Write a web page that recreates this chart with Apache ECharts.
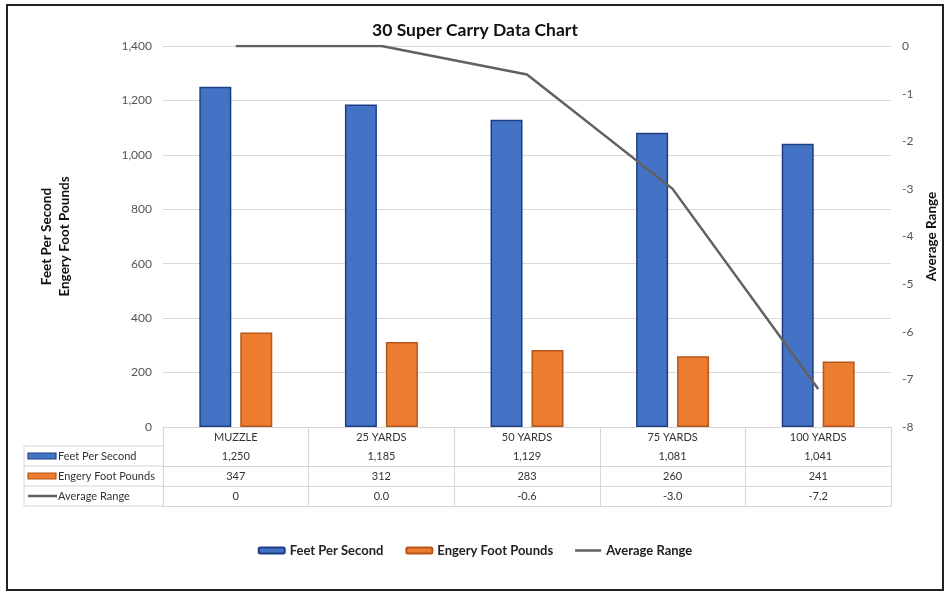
<!DOCTYPE html>
<html>
<head>
<meta charset="utf-8">
<script src="https://cdn.jsdelivr.net/npm/echarts@6/dist/echarts.min.js"></script>
<style>
html,body{margin:0;padding:0;background:#fff;}
#chart{width:950px;height:600px;}
</style>
</head>
<body>
<div id="chart"></div>
<script>
var categories = ['MUZZLE', '25 YARDS', '50 YARDS', '75 YARDS', '100 YARDS'];
var seriesNames = ['Feet Per Second', 'Engery Foot Pounds', 'Average Range'];
var feetPerSecond = [1250, 1185, 1129, 1081, 1041];
var energyFootPounds = [347, 312, 283, 260, 241];
var averageRange = [0, 0, -0.6, -3.0, -7.2];
var averageRangeLabels = ['0', '0.0', '-0.6', '-3.0', '-7.2'];

var FONT = 'Lato, "Open Sans", sans-serif';
var BLUE = '#4472C4', BLUE_B = '#1F3F85';
var ORANGE = '#ED7D31', ORANGE_B = '#B5561A';
var GRAY = '#616161';
var TABLE_LINE = '#d6d6d6';

function fmt(v){ return Number(v).toLocaleString('en-US'); }

var chart = echarts.init(document.getElementById('chart'), null, {renderer:'canvas'});

function tableAxis(data, offset, showLabels){
  return {
    type:'category', data:data, position:'bottom', offset:offset,
    axisLine:{show:true, lineStyle:{color:TABLE_LINE, width:1}},
    axisTick:{show:false},
    axisLabel:{show:showLabels, interval:0, margin:5, fontSize:11, color:'#333', fontFamily:FONT},
    splitLine:{show:false}
  };
}

var rowTop = 446, rowH = 20, colLeft = 24, colRight = 163;
var graphics = [
  {type:'rect', shape:{x:7, y:5, width:936, height:585}, style:{fill:'none', stroke:'#222', lineWidth:2}, silent:true}
];
for (var i = 0; i <= 3; i++) {
  graphics.push({type:'line', shape:{x1:colLeft, y1:rowTop + i*rowH, x2:colRight, y2:rowTop + i*rowH}, style:{stroke:TABLE_LINE, lineWidth:1}, silent:true});
}
graphics.push({type:'line', shape:{x1:colLeft, y1:rowTop, x2:colLeft, y2:rowTop + 3*rowH}, style:{stroke:TABLE_LINE, lineWidth:1}, silent:true});
var rowStyles = [
  {fill:BLUE, stroke:BLUE_B},
  {fill:ORANGE, stroke:ORANGE_B},
  {line:true}
];
for (var r = 0; r < 3; r++) {
  var cy = rowTop + r*rowH + rowH/2;
  if (rowStyles[r].line) {
    graphics.push({type:'line', shape:{x1:28, y1:cy, x2:57, y2:cy}, style:{stroke:GRAY, lineWidth:2.5}, silent:true});
  } else {
    graphics.push({type:'rect', shape:{x:28, y:cy-3, width:28, height:6}, style:{fill:rowStyles[r].fill, stroke:rowStyles[r].stroke, lineWidth:1.2}, silent:true});
  }
  graphics.push({type:'text', x:58, y:cy, style:{text:seriesNames[r], fill:'#333', font:'11px ' + FONT, textVerticalAlign:'middle', verticalAlign:'middle'}, silent:true});
}

var option = {
  backgroundColor:'#fff',
  textStyle:{fontFamily:FONT},
  title:{
    text:'30 Super Carry Data Chart', left:'center', top:16,
    textStyle:{fontSize:17.5, fontWeight:'bold', color:'#111', fontFamily:FONT}
  },
  legend:{
    top:539, left:'center', itemWidth:26, itemHeight:6, itemGap:22,
    textStyle:{fontSize:13, fontWeight:'bold', color:'#222', fontFamily:FONT},
    data:[
      {name:seriesNames[0]},
      {name:seriesNames[1]},
      {name:seriesNames[2], icon:'path://M0,0 L26,0 L26,2.5 L0,2.5 Z'}
    ]
  },
  grid:{left:163, right:59, top:46, bottom:173, containLabel:false},
  xAxis:[
    {
      type:'category', data:categories, position:'bottom',
      axisLine:{show:true, lineStyle:{color:TABLE_LINE, width:1}},
      axisTick:{show:true, length:79, lineStyle:{color:TABLE_LINE, width:1}},
      axisLabel:{interval:0, margin:5, fontSize:11, color:'#333', fontFamily:FONT},
      splitLine:{show:false}
    },
    tableAxis(feetPerSecond.map(fmt), 19, true),
    tableAxis(energyFootPounds.map(fmt), 39, true),
    tableAxis(averageRangeLabels, 59, true),
    tableAxis(categories, 79, false)
  ],
  yAxis:[
    {
      type:'value', min:0, max:1400, interval:200, position:'left',
      name:'Feet Per Second\nEngery Foot Pounds', nameLocation:'middle', nameGap:89,
      nameTextStyle:{fontSize:13.5, fontWeight:'bold', color:'#111', lineHeight:18, fontFamily:FONT},
      axisLine:{show:false}, axisTick:{show:false},
      axisLabel:{formatter:fmt, fontSize:12, color:'#555', margin:11, fontFamily:FONT},
      splitLine:{show:true, lineStyle:{color:'#d9d9d9', width:1.2}}
    },
    {
      type:'value', min:-8, max:0, interval:1, position:'right',
      name:'Average Range', nameLocation:'middle', nameGap:29,
      nameTextStyle:{fontSize:13.5, fontWeight:'bold', color:'#111', fontFamily:FONT},
      axisLine:{show:false}, axisTick:{show:false},
      axisLabel:{fontSize:12, color:'#555', margin:11, fontFamily:FONT},
      splitLine:{show:false}
    }
  ],
  series:[
    {
      name:seriesNames[0], type:'bar', data:feetPerSecond, xAxisIndex:0, yAxisIndex:0,
      barWidth:32, barGap:'28%',
      itemStyle:{color:BLUE, borderColor:BLUE_B, borderWidth:1.5}
    },
    {
      name:seriesNames[1], type:'bar', data:energyFootPounds, xAxisIndex:0, yAxisIndex:0,
      barWidth:32, barGap:'28%',
      itemStyle:{color:ORANGE, borderColor:ORANGE_B, borderWidth:1.5}
    },
    {
      name:seriesNames[2], type:'line', data:averageRange, xAxisIndex:0, yAxisIndex:1,
      symbol:'none', z:5,
      lineStyle:{color:GRAY, width:2.5}, itemStyle:{color:GRAY}
    }
  ],
  graphic:graphics
};
chart.setOption(option);
</script>
</body>
</html>
